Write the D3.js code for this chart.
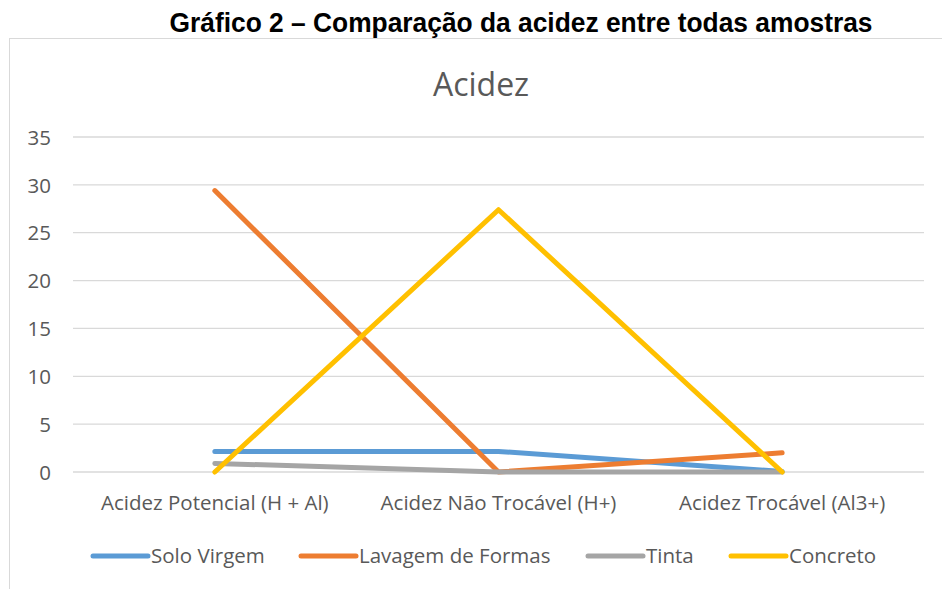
<!DOCTYPE html>
<html><head><meta charset="utf-8">
<script src="https://cdn.jsdelivr.net/npm/d3@7"></script>
<style>body{margin:0;background:#fff}svg{display:block}</style>
</head><body>
<svg id="c" width="942" height="589"></svg>
<script>
const categories = ["Acidez Potencial (H + Al)", "Acidez Não Trocável (H+)", "Acidez Trocável (Al3+)"];
const seriesNames = ["Solo Virgem", "Lavagem de Formas", "Tinta", "Concreto"];
const soloVirgem = [2.15, 2.15, 0.05];
const lavagemDeFormas = [29.4, 0, 2.0];
const tinta = [0.9, 0, 0];
const concreto = [0, 27.4, 0];
const yTicks = [0, 5, 10, 15, 20, 25, 30, 35];
const colors = ["#5b9bd5", "#ed7d31", "#a5a5a5", "#ffc000"];

const series = [soloVirgem, lavagemDeFormas, tinta, concreto];
const svg = d3.select("#c");
const font = "'Open Sans', 'Noto Sans', sans-serif";
const txt = "#595959";

// frame
svg.append("rect").attr("x", 9.5).attr("y", 38.5).attr("width", 960).attr("height", 600)
  .attr("fill", "none").attr("stroke", "#d9d9d9").attr("stroke-width", 1);

// heading
svg.append("text").attr("x", 521).attr("y", 31.5).attr("text-anchor", "middle")
  .attr("font-family", "'Liberation Sans', Arial, sans-serif").attr("font-weight", "bold")
  .attr("font-size", 27).attr("fill", "#000")
  .attr("textLength", 703).attr("lengthAdjust", "spacingAndGlyphs")
  .text("Gráfico 2 – Comparação da acidez entre todas amostras");

// chart title
svg.append("text").attr("x", 481).attr("y", 96).attr("text-anchor", "middle")
  .attr("font-family", font).attr("font-size", 32).attr("fill", txt).text("Acidez");

const x = d3.scaleBand().domain(categories).range([73, 924]);
const y = d3.scaleLinear().domain([0, 35]).range([472, 137]);

// gridlines
svg.append("g").selectAll("line").data(yTicks).join("line")
  .attr("x1", 73).attr("x2", 924).attr("y1", d => y(d)).attr("y2", d => y(d))
  .attr("stroke", "#d9d9d9").attr("stroke-width", 1.3);

// y axis labels
const yAxis = d3.axisLeft(y).tickValues(yTicks).tickSize(0).tickPadding(0);
const gy = svg.append("g").attr("transform", "translate(51,0)").call(yAxis);
gy.select(".domain").remove();
gy.selectAll("text").attr("font-family", font).attr("font-size", 20.5).attr("fill", txt).attr("dy", "0.35em");

// x axis labels
const xAxis = d3.axisBottom(x).tickSize(0).tickPadding(0);
const gx = svg.append("g").attr("transform", "translate(0,503)").call(xAxis);
gx.select(".domain").remove();
gx.selectAll("text").attr("font-family", font).attr("font-size", 20.5).attr("fill", txt).attr("dy", "0.35em");

// lines
const line = d3.line().x((d, i) => x(categories[i]) + x.bandwidth() / 2).y(d => y(d));
series.forEach((s, i) => {
  svg.append("path").datum(s).attr("d", line).attr("fill", "none")
    .attr("stroke", colors[i]).attr("stroke-width", 5)
    .attr("stroke-linecap", "round").attr("stroke-linejoin", "round");
});

// legend
const legX = [93, 301, 588, 731];
const lg = svg.append("g");
seriesNames.forEach((n, i) => {
  lg.append("line").attr("x1", legX[i]).attr("x2", legX[i] + 55).attr("y1", 556).attr("y2", 556)
    .attr("stroke", colors[i]).attr("stroke-width", 5).attr("stroke-linecap", "round");
  lg.append("text").attr("x", legX[i] + 58).attr("y", 556).attr("dy", "0.35em")
    .attr("font-family", font).attr("font-size", 20.5).attr("fill", txt).text(n);
});
</script>
</body></html>
